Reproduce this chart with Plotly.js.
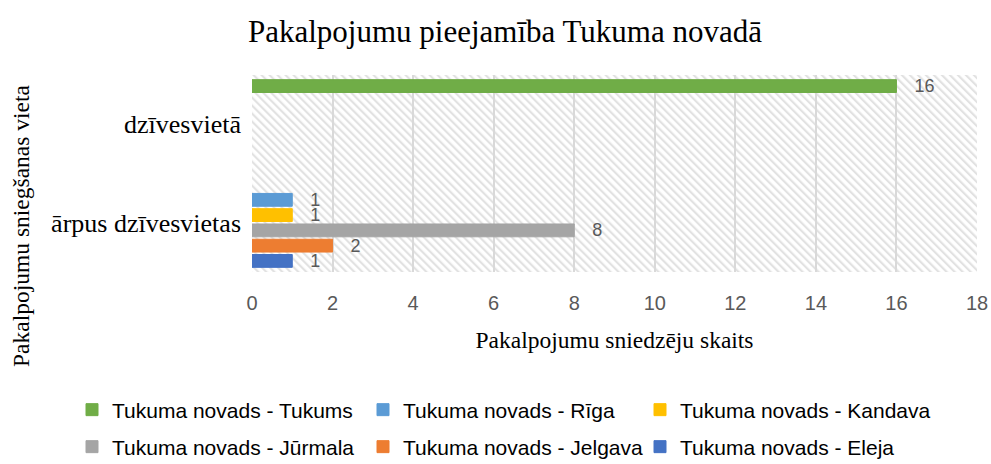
<!DOCTYPE html>
<html>
<head>
<meta charset="utf-8">
<script src="https://cdn.plot.ly/plotly-3.0.1.min.js"></script>
<style>html,body{margin:0;padding:0;background:#fff;}#chart{width:991px;height:464px;}</style>
</head>
<body>
<div id="chart"></div>
<script>
// ---- data ----
const categories = ['ārpus dzīvesvietas', 'dzīvesvietā'];
const seriesNames = ['Tukuma novads - Eleja', 'Tukuma novads - Jelgava', 'Tukuma novads - Jūrmala',
                     'Tukuma novads - Kandava', 'Tukuma novads - Rīga', 'Tukuma novads - Tukums'];
const eleja   = [1, null];
const jelgava = [2, null];
const jurmala = [8, null];
const kandava = [1, null];
const riga    = [1, null];
const tukums  = [null, 16];
const xTicks = [0, 2, 4, 6, 8, 10, 12, 14, 16, 18];

const seriesValues = [eleja, jelgava, jurmala, kandava, riga, tukums];
const colors = ['#4472C4', '#ED7D31', '#A5A5A5', '#FFC000', '#5B9BD5', '#70AD47'];
const legendIds = ['legend6', 'legend5', 'legend4', 'legend3', 'legend2', 'legend'];

const L = 252, R = 14, T = 75, B = 192, W = 991, H = 464;
const pw = W - L - R, ph = H - T - B;
const px = v => (v - L) / pw;
const py = v => (H - B - v) / ph;

const traces = seriesValues.map((vals, i) => ({
  type: 'bar',
  orientation: 'h',
  name: seriesNames[i],
  y: categories,
  x: vals,
  marker: {color: colors[i], line: {width: 1, color: colors[i]}},
  texttemplate: '\u00a0\u00a0\u00a0%{x}',
  textposition: 'outside',
  constraintext: 'none',
  cliponaxis: false,
  textfont: {family: 'Liberation Sans, Arial, sans-serif', size: 18, color: '#595959'},
  legend: legendIds[i],
  hoverinfo: 'skip'
}));

// hatch background
const svg = `<svg xmlns='http://www.w3.org/2000/svg' width='${pw}' height='${ph}'>` +
  `<defs><pattern id='p' width='5.66' height='10' patternUnits='userSpaceOnUse' patternTransform='rotate(-45)'>` +
  `<rect x='0' y='0' width='2.2' height='10' fill='#e2e2e2'/></pattern></defs>` +
  `<rect width='100%' height='100%' fill='url(#p)'/></svg>`;

const legendFont = {family: 'Liberation Sans, Arial, sans-serif', size: 21, color: '#000'};
function lg(x, y) {
  return {x: x / W, y: 1 - y / H, xref: 'container', yref: 'container',
          xanchor: 'left', yanchor: 'middle', orientation: 'h',
          font: legendFont, bgcolor: 'rgba(0,0,0,0)', borderwidth: 0};
}

const layout = {
  width: W, height: H,
  margin: {l: L, r: R, t: T, b: B, pad: 0, autoexpand: false},
  paper_bgcolor: '#fff', plot_bgcolor: '#fff',
  barmode: 'group', bargap: 0.07, bargroupgap: 0.16,
  title: {text: 'Pakalpojumu pieejamība Tukuma novadā',
          font: {family: 'Liberation Serif, Times New Roman, serif', size: 31, color: '#000'},
          x: 505 / W, xanchor: 'center', xref: 'container',
          y: 1 - 31 / H, yanchor: 'middle', yref: 'container'},
  xaxis: {range: [0, 18], tickvals: xTicks, ticktext: xTicks.map(String),
          showgrid: true, gridcolor: '#d9d9d9', gridwidth: 2, zeroline: false, showline: false,
          ticks: '', ticklabelstandoff: 17, automargin: false,
          tickfont: {family: 'Liberation Sans, Arial, sans-serif', size: 20, color: '#595959'},
          title: {text: 'Pakalpojumu sniedzēju skaits', standoff: 18,
                  font: {family: 'Liberation Serif, Times New Roman, serif', size: 23.5, color: '#000'}},
          fixedrange: true},
  yaxis: {type: 'category', categoryorder: 'array', categoryarray: categories,
          showgrid: false, zeroline: false, showline: false, ticks: '', ticklabelstandoff: 10,
          automargin: false,
          tickfont: {family: 'Liberation Serif, Times New Roman, serif', size: 26, color: '#000'},
          fixedrange: true},
  annotations: [{text: 'Pakalpojumu sniegšanas vieta', textangle: -90,
                 xref: 'paper', yref: 'paper', x: px(21), y: py(226),
                 xanchor: 'center', yanchor: 'middle', showarrow: false,
                 font: {family: 'Liberation Serif, Times New Roman, serif', size: 23.5, color: '#000'}}],
  images: [{source: 'data:image/svg+xml;charset=utf-8,' + encodeURIComponent(svg),
            xref: 'paper', yref: 'paper', x: 0, y: 1, sizex: 1, sizey: 1,
            xanchor: 'left', yanchor: 'top', sizing: 'stretch', layer: 'below'}],
  legend:  lg(72, 410),
  legend2: lg(363, 410),
  legend3: lg(640, 410),
  legend4: lg(72, 447),
  legend5: lg(363, 447),
  legend6: lg(640, 447),
  hovermode: false,
  showlegend: true
};

Plotly.newPlot('chart', traces, layout, {displayModeBar: false, staticPlot: true});
</script>
</body>
</html>
